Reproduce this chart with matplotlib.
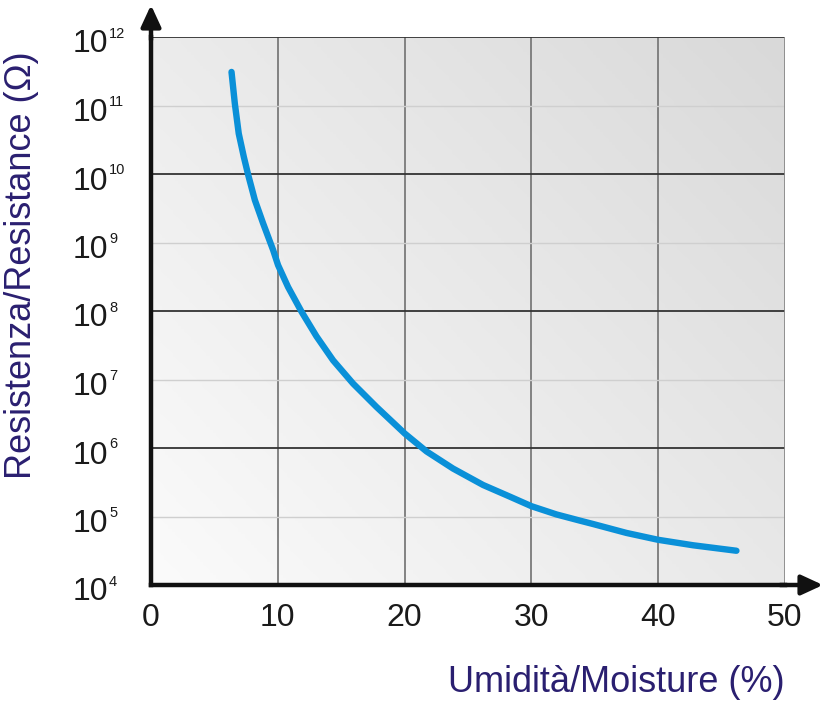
import numpy as np
import matplotlib
matplotlib.use("Agg")
import matplotlib.pyplot as plt
import matplotlib.transforms as mtransforms
from matplotlib.colors import LinearSegmentedColormap

plt.rcParams['font.family'] = ['Liberation Sans', 'DejaVu Sans']

# Data: moisture (%) vs log10(resistance / ohm)
moisture = [6.35, 6.61, 6.92, 7.32, 7.66, 8.19, 8.84, 9.63, 10.02, 10.81, 11.87, 13.05,
            14.36, 15.94, 17.78, 20.02, 21.73, 23.82, 26.19, 28.30, 30.01, 31.98, 33.82,
            34.87, 37.50, 39.99, 42.75, 46.17]
log_resistance = [11.49, 11.03, 10.59, 10.25, 9.99, 9.62, 9.28, 8.89, 8.67, 8.35, 7.99, 7.63,
                  7.28, 6.94, 6.60, 6.21, 5.95, 5.70, 5.46, 5.29, 5.15, 5.03, 4.94,
                  4.89, 4.76, 4.66, 4.58, 4.50]
resistance = [10 ** v for v in log_resistance]

x_ticks = [0, 10, 20, 30, 40, 50]
x_tick_labels = ['0', '10', '20', '30', '40', '50']
y_exponents = [4, 5, 6, 7, 8, 9, 10, 11, 12]
y_tick_base = '10'
y_tick_sups = [str(e) for e in y_exponents]

xlabel = 'Umidità/Moisture (%)'
ylabel = 'Resistenza/Resistance (Ω)'

W, H = 823, 701
fig = plt.figure(figsize=(W / 100, H / 100), dpi=100)
L, R, B, T = 151, 785, 585, 37
ax = fig.add_axes([L / W, 1 - B / H, (R - L) / W, (B - T) / H])
ax.set_yscale('log')
ax.set_xlim(0, 50)
ax.set_ylim(1e4, 1e12)

# gradient background
cmap = LinearSegmentedColormap.from_list('bg', ['#fbfbfb', '#d9d9d9'])
gx, gy = np.meshgrid(np.linspace(0, 1, 200), np.linspace(0, 1, 200))
grad = (gx * 0.55 + gy * 0.45)
ax.imshow(grad, extent=[0, 1, 0, 1], transform=ax.transAxes, origin='lower',
          cmap=cmap, aspect='auto', zorder=0, interpolation='bilinear')

# grid
for xv in x_ticks[1:-1]:
    ax.axvline(xv, color='#7a7a7a', lw=1.3, zorder=1)
for e in y_exponents[1:]:
    if e % 2 == 0:
        ax.axhline(10.0 ** e, color='#333333', lw=1.3, zorder=1)
    else:
        ax.axhline(10.0 ** e, color='#cfcfcf', lw=1.0, zorder=1)

for s in ['top', 'right']:
    ax.spines[s].set_visible(False)
ax.axvline(50, color='#8a8a8a', lw=1.3, zorder=1)
for s in ['left', 'bottom']:
    ax.spines[s].set_linewidth(3.2)
    ax.spines[s].set_color('#111111')
    ax.spines[s].set_zorder(5)

# curve
ax.plot(moisture, resistance, color='#0a90d8', lw=4.6, solid_capstyle='round',
        solid_joinstyle='round', zorder=4)

# ticks
ax.set_xticks(x_ticks)
ax.set_xticklabels(x_tick_labels, fontsize=23, color='#1a1a1a')
ax.set_yticks([10.0 ** e for e in y_exponents])
ax.yaxis.set_minor_locator(matplotlib.ticker.NullLocator())
ax.tick_params(axis='x', length=0, pad=13)
ax.tick_params(axis='y', length=0, labelleft=False)

# y tick labels: "10" with a small raised exponent
blend = mtransforms.blended_transform_factory(fig.transFigure, ax.transData)
base_tr = blend + mtransforms.ScaledTranslation(0, -0.155, fig.dpi_scale_trans)
sup_tr = blend + mtransforms.ScaledTranslation(0, -0.005, fig.dpi_scale_trans)
for e, sup in zip(y_exponents, y_tick_sups):
    ax.text(108 / W, 10.0 ** e, y_tick_base, transform=base_tr, ha='right',
            va='baseline', fontsize=23, color='#1a1a1a', clip_on=False)
    ax.text(109 / W, 10.0 ** e, sup, transform=sup_tr, ha='left',
            va='baseline', fontsize=10.5, color='#1a1a1a', clip_on=False)

# arrows on axes
ax.annotate('', xy=(151 / W, 1 - 5 / H), xytext=(151 / W, 1 - 40 / H),
            xycoords='figure fraction', textcoords='figure fraction',
            arrowprops=dict(arrowstyle='-|>,head_length=1.3,head_width=0.6',
                            color='#111111', lw=3.2, shrinkA=0, shrinkB=0))
ax.annotate('', xy=(823 / W, 1 - B / H), xytext=(780 / W, 1 - B / H),
            xycoords='figure fraction', textcoords='figure fraction',
            arrowprops=dict(arrowstyle='-|>,head_length=1.3,head_width=0.6',
                            color='#111111', lw=3.2, shrinkA=0, shrinkB=0))

label_color = '#2a1f70'
fig.text(22 / W, 1 - 265 / H, ylabel, rotation=90, ha='center', va='center',
         fontsize=26, color=label_color)
fig.text(785 / W, 1 - 683 / H, xlabel, ha='right', va='center',
         fontsize=26, color=label_color)

fig.savefig('out.png', dpi=100)
